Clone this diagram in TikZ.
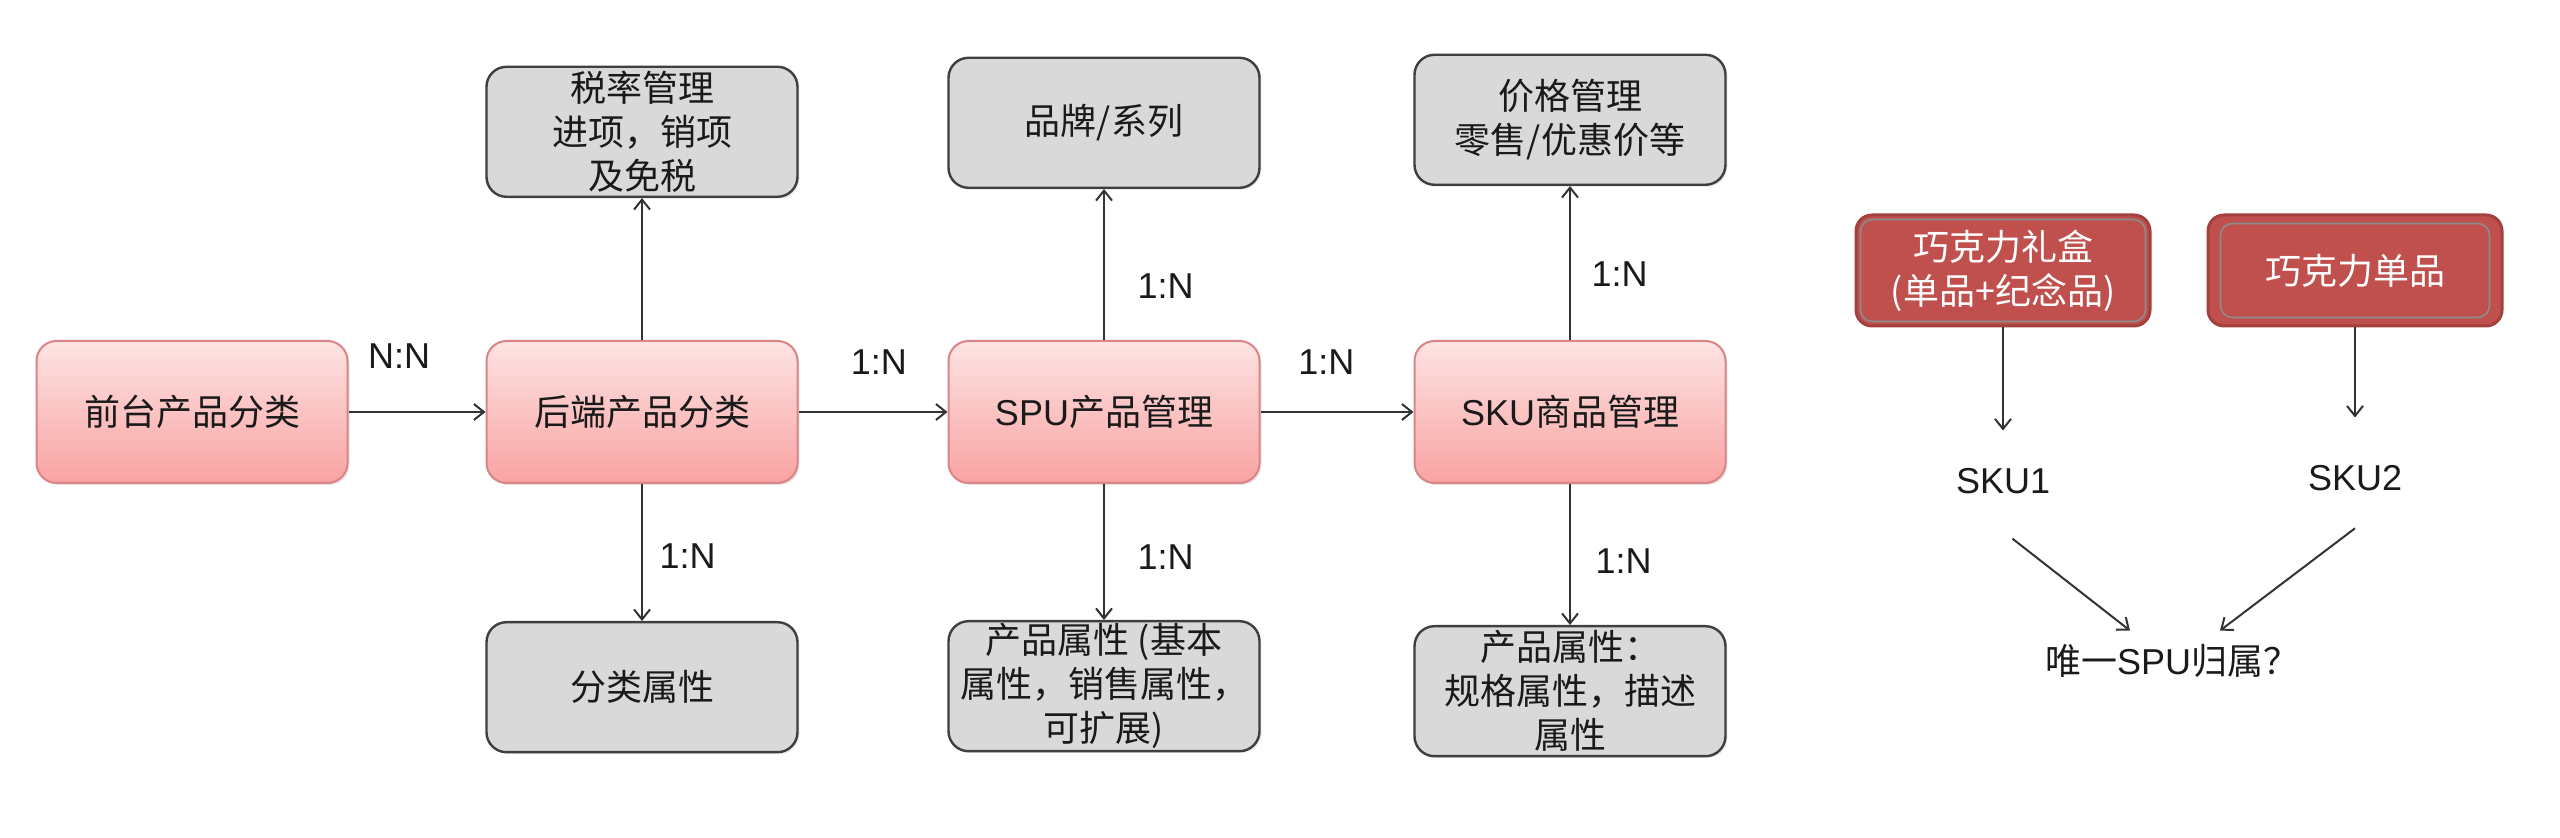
\documentclass[tikz,border=0pt]{standalone}
\usepackage{fontspec}
\setmainfont{Liberation Sans}
\newfontfamily\cjk{Noto Sans CJK SC}
\newfontfamily\lat{Liberation Sans}
\usepackage{tikz}
\usetikzlibrary{positioning, arrows.meta, shadows}

\definecolor{pinktop}{HTML}{FDE3E3}
\definecolor{pinkbot}{HTML}{F9A3A3}
\definecolor{pinkline}{HTML}{D98585}
\definecolor{grayfill}{HTML}{D9D9D9}
\definecolor{grayline}{HTML}{3F3F3F}
\definecolor{redfill}{HTML}{C0504D}
\definecolor{redline}{HTML}{A3403D}
\definecolor{redinner}{HTML}{8C8C8C}
\definecolor{linecol}{HTML}{333333}
\definecolor{textcol}{HTML}{1A1A1A}

\begin{document}
\begin{tikzpicture}[
    pinkbox/.style={rounded corners=10pt, draw=pinkline, line width=1pt,
        top color=pinktop, bottom color=pinkbot, text=textcol,
        minimum width=155.5pt, minimum height=71pt,
        drop shadow={opacity=.2, shadow xshift=1pt, shadow yshift=-1pt},
        font={\cjk\fontsize{18}{22}\selectfont}},
    graybox/.style={rounded corners=10pt, draw=grayline, line width=1.2pt,
        fill=grayfill, text=textcol, align=center, inner ysep=0pt,
        minimum width=155.5pt, minimum height=65pt,
        drop shadow={opacity=.15, shadow xshift=1pt, shadow yshift=-1pt},
        font={\cjk\fontsize{18}{22}\selectfont}},
    redbox/.style={rounded corners=8pt, draw=redline, line width=1.5pt,
        fill=redfill, text=white, align=center,
        minimum width=147pt, minimum height=55.5pt,
        font={\cjk\fontsize{18}{22}\selectfont}},
    plain/.style={text=textcol, minimum height=50pt,
        font={\fontsize{18}{22}\selectfont}},
    lab/.style={text=textcol, font={\fontsize{18}{22}\selectfont}},
    arr/.style={-{Straight Barb[length=5pt, width=8pt]}, line width=1pt, draw=linecol},
]
    \useasboundingbox (0,0) rectangle (1280pt,-419pt);

    % main row
    \node [pinkbox] (front) at (96pt,-206pt) {前台产品分类};
    \node [pinkbox, right=68.5pt of front] (back) {后端产品分类};
    \node [pinkbox, right=74.5pt of back] (spu) {{\lat SPU}产品管理};
    \node [pinkbox, right=76.5pt of spu] (sku) {{\lat SKU}商品管理};

    % attribute boxes
    \node [graybox, above=71pt of back] (tax) {税率管理\\进项，销项\\及免税};
    \node [graybox, above=75.5pt of spu] (brand) {品牌/系列};
    \node [graybox, above=77pt of sku] (price) {价格管理\\零售/优惠价等};
    \node [graybox, below=68.5pt of back] (cattr) {分类属性};
    \node [graybox, below=68pt of spu] (pattr) {产品属性 (基本\\属性，销售属性，\\可扩展)};
    \node [graybox, below=70.5pt of sku] (sattr) {产品属性：\\规格属性，描述\\属性};

    \draw [arr] (front) -- node [lab, pos=.37, above=18pt] {N:N} (back);
    \draw [arr] (back) -- node [lab, pos=.54, above=15pt] {1:N} (spu);
    \draw [arr] (spu) -- node [lab, pos=.43, above=15pt] {1:N} (sku);
    \draw [arr] (back) -- (tax);
    \draw [arr] (back) -- node [lab, pos=.53, right=5pt] {1:N} (cattr);
    \draw [arr] (spu) -- node [lab, pos=.36, right=13pt] {1:N} (brand);
    \draw [arr] (spu) -- node [lab, pos=.54, right=13pt] {1:N} (pattr);
    \draw [arr] (sku) -- node [lab, pos=.43, right=7pt] {1:N} (price);
    \draw [arr] (sku) -- node [lab, pos=.55, right=9pt] {1:N} (sattr);

    % example on the right
    \node [redbox] (gift) at (1001.5pt,-135.25pt) {巧克力礼盒\\(单品+纪念品)};
    \node [redbox, right=27.5pt of gift] (single) {巧克力单品};
    \draw [redinner, line width=.8pt, rounded corners=6pt]
        ([shift={(3pt,-3pt)}]gift.north west) rectangle ([shift={(-3pt,3pt)}]gift.south east);
    \draw [redinner, line width=.8pt, rounded corners=6pt]
        ([shift={(7pt,-5pt)}]single.north west) rectangle ([shift={(-7pt,5pt)}]single.south east);

    \node [plain, below=51.5pt of gift] (sku1) {SKU1};
    \node [plain, below=50pt of single] (sku2) {SKU2};
    \node [plain, font={\cjk\fontsize{18}{22}\selectfont}, minimum height=30pt]
        (owner) at (1086pt,-330.5pt) {唯一{\lat SPU}归属？};

    \draw [arr] (gift) -- (sku1);
    \draw [arr, shorten >=5pt] (single) -- (sku2);
    \draw [arr, shorten <=6pt] (sku1.south) -- ([xshift=-21pt]owner.north);
    \draw [arr] (sku2.south) -- ([xshift=24pt]owner.north);
\end{tikzpicture}
\end{document}
